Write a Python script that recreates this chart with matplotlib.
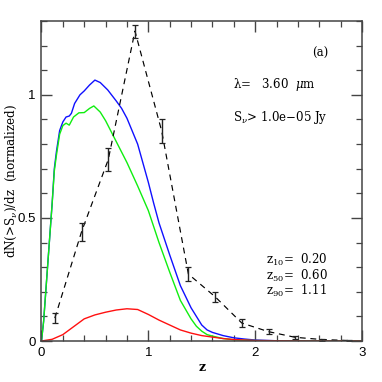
import numpy as np
import matplotlib
matplotlib.use("Agg")
import matplotlib.pyplot as plt
from matplotlib.ticker import MultipleLocator, FixedLocator

# --- data ---
z_blue = [0.0, 0.02, 0.05, 0.08, 0.1, 0.12, 0.14, 0.17, 0.2, 0.23, 0.26, 0.28, 0.31,
          0.36, 0.4, 0.45, 0.5, 0.55, 0.62, 0.7, 0.75, 0.8, 0.9, 1.0, 1.05, 1.1,
          1.2, 1.3, 1.4, 1.5, 1.55, 1.6, 1.7, 1.8, 1.9, 2.0, 2.2, 2.5, 3.0]
n_blue = [0.0, 0.08, 0.26, 0.44, 0.56, 0.70, 0.77, 0.855, 0.89, 0.91, 0.914, 0.925, 0.965,
          1.0, 1.016, 1.04, 1.06, 1.05, 1.02, 0.975, 0.945, 0.905, 0.80, 0.645, 0.56, 0.48,
          0.35, 0.225, 0.135, 0.065, 0.045, 0.035, 0.022, 0.013, 0.008, 0.004, 0.001, 0.0, 0.0]

z_green = [0.0, 0.02, 0.05, 0.08, 0.1, 0.12, 0.14, 0.17, 0.2, 0.23, 0.26, 0.3, 0.35,
           0.4, 0.45, 0.49, 0.55, 0.6, 0.7, 0.8, 0.9, 1.0, 1.1, 1.2, 1.3, 1.4, 1.45,
           1.5, 1.55, 1.6, 1.7, 1.8, 2.0, 2.3, 3.0]
n_green = [0.0, 0.08, 0.26, 0.44, 0.56, 0.69, 0.755, 0.84, 0.875, 0.885, 0.877, 0.91, 0.927,
           0.928, 0.945, 0.955, 0.93, 0.895, 0.81, 0.725, 0.63, 0.53, 0.40, 0.28, 0.165,
           0.09, 0.06, 0.04, 0.026, 0.02, 0.01, 0.005, 0.002, 0.0, 0.0]

z_red = [0.0, 0.1, 0.2, 0.3, 0.4, 0.5, 0.6, 0.7, 0.8, 0.9, 1.0, 1.1, 1.2, 1.3, 1.4,
         1.5, 1.6, 1.7, 1.8, 2.0, 2.5, 3.0]
n_red = [0.0, 0.007, 0.026, 0.058, 0.09, 0.106, 0.117, 0.126, 0.131, 0.128, 0.108, 0.085,
         0.065, 0.045, 0.032, 0.022, 0.016, 0.01, 0.006, 0.002, 0.0, 0.0]

z_obs = [0.125, 0.375, 0.625, 0.875, 1.125, 1.375, 1.625, 1.875, 2.125, 2.375, 2.625, 2.875]
n_obs = [0.093, 0.444, 0.737, 1.259, 0.853, 0.272, 0.18, 0.073, 0.038, 0.015, 0.006, 0.002]
e_obs = [0.02, 0.037, 0.047, 0.026, 0.049, 0.028, 0.02, 0.015, 0.01, 0.006, 0.004, 0.002]

serif = "DejaVu Serif"
sans = "Liberation Sans"
txt = dict(family=serif, math_fontfamily="dejavuserif", fontsize=8.5, va="center")

fig = plt.figure(figsize=(3.82, 3.82), dpi=100)
ax = fig.add_axes([0.1086, 0.1073, 0.839, 0.8377])

ax.plot(z_blue, n_blue, color="#1010ff", lw=1.0)
ax.plot(z_green, n_green, color="#10ee10", lw=1.0)
ax.plot(z_red, n_red, color="#ff1010", lw=1.0)
ax.plot(z_obs, n_obs, color="black", lw=0.85, ls=(0, (5, 4)))
ax.errorbar(z_obs, n_obs, yerr=e_obs, fmt="none", ecolor="#222222",
            elinewidth=1.0, capsize=2.5, capthick=0.9)

ax.set_xlim(0, 3)
ax.set_ylim(0, 1.3)
ax.xaxis.set_major_locator(FixedLocator([0, 1, 2, 3]))
ax.xaxis.set_minor_locator(MultipleLocator(0.2))
ax.yaxis.set_major_locator(FixedLocator([0, 0.5, 1]))
ax.yaxis.set_minor_locator(MultipleLocator(0.1))
ax.set_yticklabels(["0", "0.5", "1"])
ax.tick_params(which="both", direction="in", top=True, right=True, color="#444444")
ax.tick_params(which="major", length=8, width=1.0, labelsize=9.5, pad=4)
ax.tick_params(which="minor", length=4, width=0.9)
for lab in ax.get_xticklabels() + ax.get_yticklabels():
    lab.set_family(sans)
for s in ax.spines.values():
    s.set_color("#444444")
    s.set_linewidth(1.1)

ax.set_xlabel("z", family=serif, fontsize=9, fontweight="bold", labelpad=2)
ax.set_ylabel(r"dN(>S$_\nu$)/dz  (normalized)", family=serif,
              math_fontfamily="dejavuserif", fontsize=8.6)
ax.yaxis.set_label_coords(-0.07, 0.5)

ax.text(2.53, 1.168, "(a)", **txt)
ax.text(1.79, 1.043, r"$\mathrm{\lambda}$=   3.60  $\mu$m", **txt)
ax.text(1.79, 0.908, r"S$_\nu$> 1.0e$-$05 Jy", **txt)
ax.text(2.10, 0.329, r"z$_{10}$=  0.20", **txt)
ax.text(2.10, 0.265, r"z$_{50}$=  0.60", **txt)
ax.text(2.10, 0.203, r"z$_{90}$=  1.11", **txt)

fig.savefig("out.png", dpi=100)
